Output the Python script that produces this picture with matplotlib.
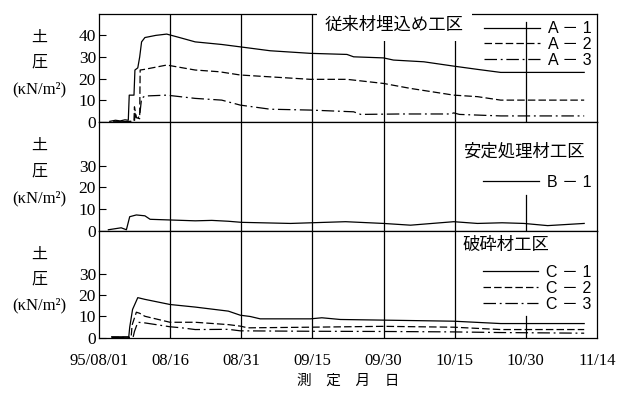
import numpy as np
import matplotlib.pyplot as plt
from matplotlib.lines import Line2D

plt.rcParams['font.family'] = ['Liberation Serif', 'Noto Sans CJK JP']
plt.rcParams['axes.linewidth'] = 0.9

# days counted from 95/08/01
tick_days = [0, 15, 30, 45, 60, 75, 90, 105]
tick_labels = ['95/08/01', '08/16', '08/31', '09/15', '09/30', '10/15', '10/30', '11/14']

a1_day = [2.3, 3.5, 4.5, 5.5, 6.2, 6.4, 7.4, 7.6, 8.2, 8.6, 9.0, 9.7, 12, 14.3, 17, 20.3,
          25.9, 29.8, 36.1, 44.6, 52.3, 53.7, 60, 62.1, 68.5, 74.8, 79.8, 84.7, 102.3]
a1_val = [0.3, 0.8, 0.5, 1.0, 0.8, 12.4, 12.4, 24, 25, 30, 37, 39, 40, 40.6, 39, 37,
          35.8, 34.7, 32.9, 31.7, 31.2, 30.1, 29.6, 28.6, 27.8, 25.8, 24.3, 22.9, 22.9]
a2_day = [3, 7, 7.4, 7.5, 7.9, 8.6, 8.7, 9.6, 14.3, 20.3, 25.4, 29.8, 44.6, 52.3, 60,
          65.7, 74.8, 79.8, 84.7, 102.3]
a2_val = [0, 0.3, 0.5, 7, 2, 1.5, 24, 24.3, 26.3, 24, 23.2, 21.7, 19.7, 19.7, 17.8,
          15.5, 12.4, 11.7, 10.1, 10.1]
a3_day = [3, 7.5, 7.6, 8.0, 8.6, 9.0, 9.7, 14.3, 20.3, 25.9, 29.8, 36.1, 44.6, 53.7,
          55.2, 63.6, 74.2, 74.8, 76, 84.7, 102.3]
a3_val = [0, 0.3, 4, 1.0, 3, 10.9, 12, 12.4, 10.9, 10.1, 7.8, 5.9, 5.5, 4.7,
          3.5, 3.7, 3.7, 4.2, 3.5, 2.8, 2.8]

b1_day = [2, 4.7, 5.8, 6.5, 7.9, 9.7, 10.8, 20.3, 23.8, 27.3, 30.1, 40.4, 52, 60,
          65.7, 74.8, 79.8, 85, 89.6, 94.6, 102.3]
b1_val = [0.5, 1.4, 0.5, 6.5, 7.3, 6.9, 5.3, 4.6, 4.8, 4.4, 3.9, 3.4, 4.2, 3.4,
          2.6, 4.2, 3.4, 3.7, 3.4, 2.4, 3.4]

c1_day = [2.7, 6.3, 6.5, 7.1, 8.2, 9.7, 15, 20.3, 27.3, 29.8, 31.9, 34, 44.6, 47,
          50.9, 60, 74.8, 84.7, 102.3]
c1_val = [0.5, 0.5, 5, 13.3, 18.8, 18, 15.6, 14.4, 12.5, 10.6, 10, 8.9, 8.9, 9.4,
          8.6, 8.3, 7.8, 6.7, 6.7]
c2_day = [2.7, 6.8, 7.0, 7.9, 8.6, 9.7, 15, 20.3, 27.3, 29.8, 31.4, 44.6, 60, 74.8,
          84.7, 102.3]
c2_val = [0.3, 0.3, 6, 12, 11.5, 10.1, 7.3, 7.3, 6.2, 5.5, 4.7, 5, 5.4, 5.0, 3.9, 3.9]
c3_day = [2.7, 7.2, 7.5, 8.2, 9.7, 15, 17.5, 20.3, 27.3, 29.8, 44.6, 60, 74.8, 84.7, 102.3]
c3_val = [0.2, 0.2, 3, 7.3, 7, 5.2, 4.7, 3.9, 4.0, 3.3, 3.1, 3.0, 2.8, 2.5, 2.2]

solid = '-'
dashed = (0, (6, 2.5))
dashdot = (0, (10, 3, 1.5, 3))

panels = [
    ('従来材埋込め工区', [(a1_day, a1_val, 'A－1', solid),
                          (a2_day, a2_val, 'A－2', dashed),
                          (a3_day, a3_val, 'A－3', dashdot)], [0, 10, 20, 30, 40]),
    ('安定処理材工区', [(b1_day, b1_val, 'B－1', solid)], [0, 10, 20, 30]),
    ('破砕材工区', [(c1_day, c1_val, 'C－1', solid),
                    (c2_day, c2_val, 'C－2', dashed),
                    (c3_day, c3_val, 'C－3', dashdot)], [0, 10, 20, 30]),
]

fig = plt.figure(figsize=(6.18, 3.98), dpi=100)
left, width = 0.160, 0.806
bottoms = [0.6935, 0.420, 0.151]
heights = [0.272, 0.2735, 0.269]
# how far the 10/30 line reaches up into each panel
late_top = [0.92, 0.33, 0.2]
sans = ['Liberation Sans', 'Noto Sans CJK JP']

for i, (title, series, yticks) in enumerate(panels):
    ax = fig.add_axes([left, bottoms[i], width, heights[i]])
    ax.set_xlim(0, 105)
    ax.set_ylim(0, 50)
    for d in tick_days[1:-1]:
        top = late_top[i] if d == 90 else 1.0
        ax.axvline(d, ymax=top, color='black', lw=0.9, zorder=1)

    handles = []
    for days, vals, name, ls in series:
        ax.plot(days, vals, color='black', lw=0.9, ls=ls, zorder=2)
        handles.append(Line2D([], [], color='black', lw=0.9, ls=ls))

    ax.set_yticks(yticks)
    ax.set_yticklabels([str(v) for v in yticks], fontsize=12.5)
    ax.tick_params(axis='y', direction='in', length=5, width=0.8, pad=2)

    ax.set_xticks(tick_days)
    if i == 2:
        ax.set_xticklabels(tick_labels, fontsize=12)
        ax.tick_params(axis='x', length=0, pad=11)
        ax.set_xlabel('測　定　月　日', fontsize=10.5, labelpad=4)
    else:
        ax.tick_params(axis='x', length=0, labelbottom=False)

    # vertical axis caption
    ax.text(-0.12, 0.78, '土', transform=ax.transAxes, ha='center', va='center', fontsize=11.5)
    ax.text(-0.12, 0.55, '圧', transform=ax.transAxes, ha='center', va='center', fontsize=11.5)
    ax.text(-0.12, 0.30, '(κN/m²)', transform=ax.transAxes, ha='center', va='center', fontsize=12)

    labels = [s[2].replace('－', ' － ') for s in series]
    if i == 0:
        ax.text(0.454, 0.898, title, transform=ax.transAxes, ha='left', va='center',
                fontsize=12.5, family=sans,
                bbox=dict(facecolor='white', edgecolor='none', pad=6), zorder=5)
        anchor = (1.012, 1.035)
    elif i == 1:
        ax.text(0.731, 0.733, title, transform=ax.transAxes, ha='left', va='center',
                fontsize=12.5, family=sans)
        anchor = (1.012, 0.62)
    else:
        ax.text(0.731, 0.87, title, transform=ax.transAxes, ha='left', va='center',
                fontsize=12.5, family=sans)
        anchor = (1.012, 0.785)
    leg = ax.legend(handles, labels, loc='upper right', bbox_to_anchor=anchor,
                    frameon=False, handlelength=3.5, handletextpad=0.5,
                    labelspacing=0.05, borderpad=0.2,
                    prop={'family': sans, 'size': 11.5})
    leg.set_zorder(6)

fig.savefig('out.png', dpi=100)
